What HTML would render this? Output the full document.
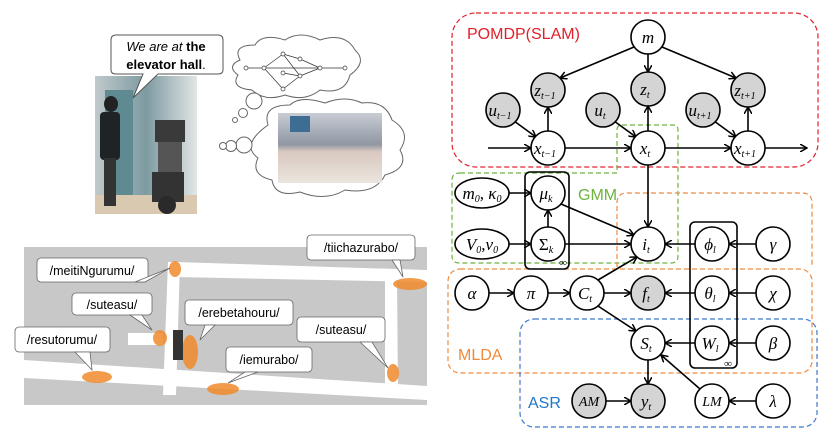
<!DOCTYPE html>
<html><head><meta charset="utf-8"><style>
html,body{margin:0;padding:0;background:#fff;width:831px;height:441px;overflow:hidden}
svg{display:block}
.n{fill:#fff;stroke:#000;stroke-width:1.6}
.g{fill:#d4d4d4;stroke:#000;stroke-width:1.6}
.e{stroke:#000;stroke-width:1.6;fill:none;marker-end:url(#a)}
.t{font-family:"Liberation Serif",serif;font-style:italic;font-size:17px;text-anchor:middle}
.s{font-size:10px}
.lb{font-family:"Liberation Sans",sans-serif;font-size:12.5px;text-anchor:middle}
</style></head><body>
<svg width="831" height="441" viewBox="0 0 831 441">
<defs>
<marker id="a" markerWidth="8" markerHeight="8" refX="7" refY="4" orient="auto" markerUnits="userSpaceOnUse"><path d="M0,0 L7,4 L0,8" fill="none" stroke="#000" stroke-width="1.5"/></marker>
<linearGradient id="wall" x1="0" x2="1"><stop offset="0" stop-color="#b9c3c6"/><stop offset="0.5" stop-color="#6f8f97"/><stop offset="1" stop-color="#dfe3e3"/></linearGradient>
<linearGradient id="hall" x1="0" y1="0" x2="0" y2="1"><stop offset="0" stop-color="#c8ccd4"/><stop offset="0.45" stop-color="#8f97a3"/><stop offset="0.55" stop-color="#d9c8c0"/><stop offset="1" stop-color="#eae5de"/></linearGradient>
</defs>

<!-- photo -->
<rect x="95" y="76" width="102" height="138" fill="url(#wall)" opacity="0.9"/>
<rect x="95" y="195" width="102" height="19" fill="#d9c9b0"/>
<rect x="105" y="90" width="28" height="105" fill="#5f8a92"/>
<ellipse cx="111" cy="104" rx="7" ry="8" fill="#222"/>
<rect x="100" y="112" width="20" height="48" rx="4" fill="#1e2326"/>
<rect x="104" y="158" width="12" height="48" fill="#333"/>
<rect x="155" y="120" width="30" height="22" fill="#3a3a3a"/>
<rect x="158" y="142" width="24" height="30" fill="#555"/>
<rect x="152" y="172" width="32" height="30" fill="#333"/>
<circle cx="167" cy="205" r="9" fill="#2a2a2a"/>

<!-- speech bubble -->
<path d="M116,35 H218 Q223,35 223,40 V70 Q223,74 218,74 H158 L133,98 L143,74 H116 Q111,74 111,70 V40 Q111,35 116,35 Z" fill="#fff" stroke="#555" stroke-width="1"/>
<text x="166" y="51" font-family="Liberation Sans,sans-serif" font-size="13" text-anchor="middle"><tspan font-style="italic">We are at </tspan><tspan font-weight="bold">the</tspan></text>
<text x="166" y="69" font-family="Liberation Sans,sans-serif" font-size="13" text-anchor="middle" font-weight="bold">elevator hall<tspan font-weight="normal">.</tspan></text>

<!-- clouds -->
<path d="M240,60 Q232,45 255,45 Q262,33 285,40 Q300,30 320,40 Q345,32 355,50 Q368,62 350,75 Q345,95 320,90 Q305,102 285,95 Q265,102 252,90 Q230,88 238,75 Q226,66 240,60 Z" fill="#fff" stroke="#666" stroke-width="1"/>
<g stroke="#333" stroke-width="0.7" fill="#fff">
<line x1="246" y1="68" x2="345" y2="68"/><line x1="264" y1="68" x2="283" y2="54"/><line x1="264" y1="68" x2="283" y2="89"/><line x1="283" y1="54" x2="300" y2="59"/><line x1="283" y1="73" x2="300" y2="76"/><line x1="300" y1="59" x2="320" y2="68"/><line x1="300" y1="76" x2="320" y2="68"/><line x1="283" y1="89" x2="300" y2="76"/><line x1="283" y1="54" x2="300" y2="76"/>
<circle cx="246" cy="68" r="2"/><circle cx="264" cy="68" r="2"/><circle cx="283" cy="54" r="2"/><circle cx="283" cy="73" r="2"/><circle cx="283" cy="89" r="2"/><circle cx="300" cy="59" r="2"/><circle cx="300" cy="76" r="2"/><circle cx="320" cy="68" r="2"/><circle cx="345" cy="68" r="2"/></g>
<path d="M268,125 Q262,105 290,105 Q300,95 325,103 Q345,95 362,103 Q385,100 392,120 Q412,132 400,150 Q410,168 385,175 Q375,195 345,190 Q325,202 300,192 Q275,198 272,180 Q250,175 258,158 Q240,145 268,125 Z" fill="#fff" stroke="#666" stroke-width="1"/>
<rect x="278" y="113" width="104" height="70" fill="url(#hall)"/>
<rect x="290" y="116" width="20" height="16" fill="#3d6d92"/>
<circle cx="254" cy="101" r="8" fill="#fff" stroke="#666"/>
<circle cx="243" cy="113" r="4.5" fill="#fff" stroke="#666"/>
<circle cx="235" cy="120" r="2.5" fill="#fff" stroke="#666"/>
<circle cx="244" cy="145" r="8" fill="#fff" stroke="#666"/>
<circle cx="231" cy="146" r="5.5" fill="#fff" stroke="#666"/>
<circle cx="223" cy="146" r="3.5" fill="#fff" stroke="#666"/>

<!-- map -->
<rect x="24" y="247" width="403" height="158" fill="#c8c8c8"/>
<g fill="#fff">
<polygon points="175,262 427,270 427,282 175,277"/>
<polygon points="168,262 180,262 176,395 163,395"/>
<polygon points="24,360 427,386 427,400 24,378"/>
<polygon points="385,275 397,275 398,395 385,395"/>
<rect x="128" y="333" width="35" height="12"/>
</g>
<g fill="#f08a2c" opacity="0.85">
<ellipse cx="175" cy="269" rx="6" ry="8"/><ellipse cx="410" cy="284" rx="17" ry="6"/><ellipse cx="160" cy="338" rx="7" ry="8"/>
<ellipse cx="190" cy="352" rx="8" ry="17"/><ellipse cx="97" cy="377" rx="15" ry="6"/><ellipse cx="223" cy="389" rx="16" ry="6"/><ellipse cx="393" cy="373" rx="6" ry="9"/>
</g>
<rect x="173" y="330" width="10" height="30" fill="#333"/>
<g fill="#fff" stroke="#666" stroke-width="0.8">
<rect x="37" y="258" width="111" height="24" rx="4"/><path d="M135,282 L170,268 L145,282Z"/>
<rect x="307" y="235" width="108" height="25" rx="4"/><path d="M392,260 L403,277 L400,260Z"/>
<rect x="72" y="293" width="80" height="22" rx="4"/><path d="M130,315 L152,330 L142,315Z"/>
<rect x="185" y="300" width="108" height="25" rx="4"/><path d="M205,325 L200,340 L215,325Z"/>
<rect x="15" y="327" width="95" height="25" rx="4"/><path d="M75,352 L92,370 L90,352Z"/>
<rect x="297" y="317" width="88" height="25" rx="4"/><path d="M360,342 L388,368 L372,342Z"/>
<rect x="226" y="347" width="86" height="25" rx="4"/><path d="M245,372 L228,383 L258,372Z"/>
</g>
<g class="lb">
<text x="92" y="275">/meitiNgurumu/</text><text x="361" y="252">/tiichazurabo/</text><text x="112" y="309">/suteasu/</text>
<text x="239" y="317">/erebetahouru/</text><text x="62" y="344">/resutorumu/</text><text x="341" y="334">/suteasu/</text><text x="269" y="364">/iemurabo/</text>
</g>

<!-- region boxes -->
<rect x="452" y="13" width="366" height="154" rx="24" fill="none" stroke="#e0202a" stroke-width="1.2" stroke-dasharray="5,3"/>
<text x="467" y="39" font-family="Liberation Sans,sans-serif" font-size="16" fill="#e0202a">POMDP(SLAM)</text>
<path d="M460,173 H617 V130 Q617,125 622,125 H673 Q678,125 678,130 V256 Q678,263 671,263 H459 Q452,263 452,256 V180 Q452,173 460,173 Z" fill="none" stroke="#6cb33f" stroke-width="1.2" stroke-dasharray="5,3"/>
<text x="578" y="200" font-family="Liberation Sans,sans-serif" font-size="16" fill="#6cb33f">GMM</text>
<path d="M617,267 V203 Q617,193 627,193 H802 Q812,193 812,203 V267" fill="none" stroke="#f08a3c" stroke-width="1.2" stroke-dasharray="5,3"/>
<rect x="448" y="269" width="364" height="104" rx="12" fill="none" stroke="#f08a3c" stroke-width="1.2" stroke-dasharray="5,3"/>
<text x="458" y="360" font-family="Liberation Sans,sans-serif" font-size="16" fill="#f08a3c">MLDA</text>
<rect x="520" y="319" width="297" height="108" rx="14" fill="none" stroke="#3f78d0" stroke-width="1.2" stroke-dasharray="5,3"/>
<text x="528" y="408" font-family="Liberation Sans,sans-serif" font-size="16" fill="#1f78c8">ASR</text>

<!-- plates -->
<rect x="525" y="172" width="44" height="97" rx="5" fill="none" stroke="#000" stroke-width="1.6"/>
<text x="563" y="266" font-size="11" text-anchor="middle" font-family="Liberation Serif,serif">∞</text>
<rect x="690" y="222" width="47" height="146" rx="5" fill="none" stroke="#000" stroke-width="1.6"/>
<text x="728" y="367" font-size="11" text-anchor="middle" font-family="Liberation Serif,serif">∞</text>

<!-- edges -->
<line class="e" x1="634" y1="47" x2="560" y2="78"/>
<line class="e" x1="648" y1="54" x2="648" y2="72"/>
<line class="e" x1="662" y1="47" x2="736" y2="78"/>
<line class="e" x1="514" y1="121" x2="536" y2="137"/>
<line class="e" x1="614" y1="121" x2="636" y2="137"/>
<line class="e" x1="714" y1="121" x2="736" y2="137"/>
<line class="e" x1="548" y1="131" x2="548" y2="107"/>
<line class="e" x1="648" y1="131" x2="648" y2="106"/>
<line class="e" x1="748" y1="131" x2="748" y2="107"/>
<line class="e" x1="488" y1="148" x2="531" y2="148"/>
<line class="e" x1="565" y1="148" x2="631" y2="148"/>
<line class="e" x1="665" y1="148" x2="731" y2="148"/>
<line class="e" x1="765" y1="148" x2="807" y2="148"/>
<line class="e" x1="648" y1="165" x2="648" y2="227"/>
<line class="e" x1="509" y1="193" x2="531" y2="193"/>
<line class="e" x1="509" y1="244" x2="531" y2="244"/>
<line class="e" x1="548" y1="227" x2="548" y2="210"/>
<line class="e" x1="561" y1="204" x2="634" y2="235"/>
<line class="e" x1="565" y1="244" x2="631" y2="244"/>
<line class="e" x1="695" y1="244" x2="665" y2="244"/>
<line class="e" x1="756" y1="244" x2="729" y2="244"/>
<line class="e" x1="489" y1="293" x2="514" y2="293"/>
<line class="e" x1="548" y1="293" x2="570" y2="293"/>
<line class="e" x1="604" y1="293" x2="631" y2="293"/>
<line class="e" x1="695" y1="293" x2="665" y2="293"/>
<line class="e" x1="756" y1="293" x2="729" y2="293"/>
<line class="e" x1="598" y1="280" x2="637" y2="257"/>
<line class="e" x1="598" y1="306" x2="636" y2="331"/>
<line class="e" x1="695" y1="343" x2="665" y2="343"/>
<line class="e" x1="756" y1="343" x2="729" y2="343"/>
<line class="e" x1="648" y1="360" x2="648" y2="384"/>
<line class="e" x1="606" y1="401" x2="631" y2="401"/>
<line class="e" x1="700" y1="389" x2="661" y2="355"/>
<line class="e" x1="756" y1="401" x2="729" y2="401"/>

<!-- nodes -->
<circle class="n" cx="648" cy="37" r="17"/>
<circle class="g" cx="548" cy="90" r="17"/><circle class="g" cx="648" cy="89" r="17"/><circle class="g" cx="748" cy="90" r="17"/>
<circle class="g" cx="503" cy="110" r="17"/><circle class="g" cx="603" cy="110" r="17"/><circle class="g" cx="703" cy="110" r="17"/>
<circle class="n" cx="548" cy="148" r="17"/><circle class="n" cx="648" cy="148" r="17"/><circle class="n" cx="748" cy="148" r="17"/>
<ellipse class="n" cx="482" cy="193" rx="27" ry="15"/><circle class="n" cx="548" cy="193" r="17"/>
<ellipse class="n" cx="482" cy="244" rx="27" ry="15"/><circle class="n" cx="548" cy="244" r="17"/>
<circle class="n" cx="648" cy="244" r="17"/><circle class="n" cx="712" cy="244" r="17"/><circle class="n" cx="773" cy="244" r="17"/>
<circle class="n" cx="472" cy="293" r="17"/><circle class="n" cx="531" cy="293" r="17"/><circle class="n" cx="587" cy="293" r="17"/>
<circle class="g" cx="648" cy="293" r="17"/><circle class="n" cx="712" cy="293" r="17"/><circle class="n" cx="773" cy="293" r="17"/>
<circle class="n" cx="648" cy="343" r="17"/><circle class="n" cx="712" cy="343" r="17"/><circle class="n" cx="773" cy="343" r="17"/>
<circle class="g" cx="589" cy="401" r="17"/><circle class="g" cx="648" cy="401" r="17"/><circle class="n" cx="712" cy="401" r="17"/><circle class="n" cx="773" cy="401" r="17"/>

<g class="t">
<text x="648" y="43">m</text>
<text x="545" y="96">z<tspan class="s" dy="3">t−1</tspan></text>
<text x="645" y="95">z<tspan class="s" dy="3">t</tspan></text>
<text x="745" y="96">z<tspan class="s" dy="3">t+1</tspan></text>
<text x="500" y="116">u<tspan class="s" dy="3">t−1</tspan></text>
<text x="600" y="116">u<tspan class="s" dy="3">t</tspan></text>
<text x="700" y="116">u<tspan class="s" dy="3">t+1</tspan></text>
<text x="545" y="154">x<tspan class="s" dy="3">t−1</tspan></text>
<text x="645" y="154">x<tspan class="s" dy="3">t</tspan></text>
<text x="745" y="154">x<tspan class="s" dy="3">t+1</tspan></text>
<text x="482" y="199">m<tspan class="s" dy="3">0</tspan><tspan dy="-3">, κ</tspan><tspan class="s" dy="3">0</tspan></text>
<text x="546" y="199">μ<tspan class="s" dy="3">k</tspan></text>
<text x="482" y="250">V<tspan class="s" dy="3">0</tspan><tspan dy="-3">,ν</tspan><tspan class="s" dy="3">0</tspan></text>
<text x="546" y="250" font-style="normal">Σ<tspan class="s" dy="3" font-style="italic">k</tspan></text>
<text x="646" y="250">i<tspan class="s" dy="3">t</tspan></text>
<text x="710" y="250">ϕ<tspan class="s" dy="3">l</tspan></text>
<text x="773" y="250">γ</text>
<text x="472" y="299">α</text><text x="531" y="299">π</text>
<text x="585" y="299">C<tspan class="s" dy="3">t</tspan></text>
<text x="646" y="299">f<tspan class="s" dy="3">t</tspan></text>
<text x="710" y="299">θ<tspan class="s" dy="3">l</tspan></text>
<text x="773" y="299">χ</text>
<text x="646" y="349">S<tspan class="s" dy="3">t</tspan></text>
<text x="710" y="349">W<tspan class="s" dy="3">l</tspan></text>
<text x="773" y="349">β</text>
<text x="589" y="406" font-size="14">AM</text>
<text x="646" y="407">y<tspan class="s" dy="3">t</tspan></text>
<text x="712" y="406" font-size="14">LM</text>
<text x="773" y="407">λ</text>
</g>
</svg>
</body></html>
